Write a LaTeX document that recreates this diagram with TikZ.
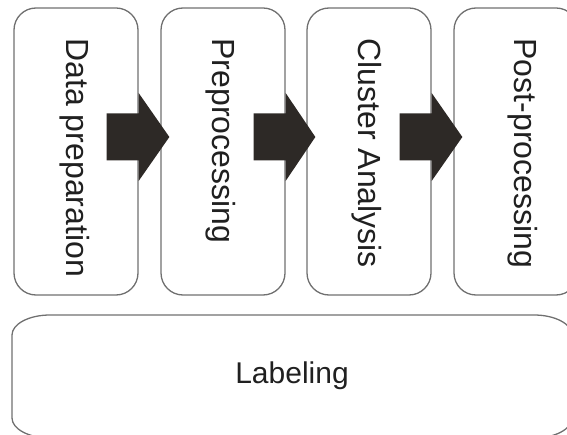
\documentclass[tikz,border=0pt]{standalone}
\usepackage{fontspec}
\setmainfont{Liberation Sans}
\usetikzlibrary{calc}
\definecolor{edgegray}{RGB}{112,112,112}
\definecolor{arrowfill}{RGB}{45,41,38}
\definecolor{textdark}{RGB}{32,32,32}
\begin{document}
\begin{tikzpicture}[x=1pt,y=1pt,
  stagebox/.style={draw=edgegray, line width=1.3pt, rounded corners=22pt,
    minimum width=124pt, minimum height=287pt, inner sep=0pt},
  stagetext/.style={rotate=-90, anchor=base west, inner sep=0pt,
    font=\fontsize{32}{36}\selectfont, text=textdark},
  bigarrow/.style={fill=arrowfill, draw=none}]
\useasboundingbox (0,0) rectangle (567,434);

% four processing stages
\node[stagebox] (b1) at (76,282.5) {};
\node[stagebox] (b2) at (223,282.5) {};
\node[stagebox] (b3) at (369,282.5) {};
\node[stagebox] (b4) at (516,282.5) {};

\node[stagetext] (t1) at ($(b1.north west)+(53,-31)$) {Data preparation};
\node[stagetext] (t2) at ($(b2.north west)+(52,-31)$) {Preprocessing};
\node[stagetext] (t3) at ($(b3.north west)+(52,-31)$) {Cluster Analysis};
\node[stagetext] (t4) at ($(b4.north west)+(61,-31)$) {Post-processing};

% block arrows between consecutive stages
\foreach \a/\b in {b1/b2,b2/b3,b3/b4}{
  \fill[bigarrow] ($(\a.east)+(-32,38)$) -- ($(\a.east)+(0,38)$)
    -- ($(\a.east)+(0,58.5)$) -- ($(\b.west)+(9,14.5)$)
    -- ($(\a.east)+(0,-29.5)$) -- ($(\a.east)+(0,-9)$)
    -- ($(\a.east)+(-32,-9)$) -- cycle;
}

% labeling band underneath
\draw[edgegray, line width=1.3pt]
  (50,119) -- (534,119)
  arc[start angle=90, end angle=0, x radius=38, y radius=20] -- (572,16)
  arc[start angle=0, end angle=-90, x radius=38, y radius=20] -- (50,-4)
  arc[start angle=270, end angle=180, x radius=38, y radius=20] -- (12,99)
  arc[start angle=180, end angle=90, x radius=38, y radius=20] -- cycle;
\node[anchor=base, inner sep=0pt, font=\fontsize{30}{34}\selectfont,
  text=textdark] (lab) at (292,51) {Labeling};
\end{tikzpicture}
\end{document}
